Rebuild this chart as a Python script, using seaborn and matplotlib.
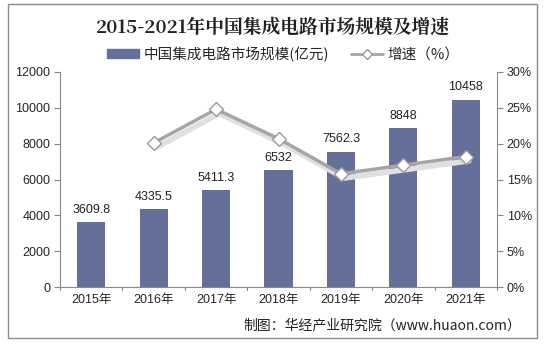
import matplotlib
matplotlib.use("Agg")
import matplotlib.pyplot as plt
import seaborn as sns
import pandas as pd
import numpy as np
from matplotlib.patches import Rectangle

years = ["2015年", "2016年", "2017年", "2018年", "2019年", "2020年", "2021年"]
scale = [3609.8, 4335.5, 5411.3, 6532, 7562.3, 8848, 10458]
scale_labels = ["3609.8", "4335.5", "5411.3", "6532", "7562.3", "8848", "10458"]
growth = [np.nan, 20.1, 24.8, 20.7, 15.8, 17.0, 18.2]
left_ticks = [0, 2000, 4000, 6000, 8000, 10000, 12000]
right_ticks = [0, 5, 10, 15, 20, 25, 30]

sns.set_theme(style="white")
plt.rcParams['font.family'] = ['Liberation Sans', 'Noto Sans CJK SC', 'DejaVu Sans']

df = pd.DataFrame({"year": years, "scale": scale, "growth": growth})

fig = plt.figure(figsize=(5.45, 3.45), dpi=100)
fig.patch.set_facecolor("white")
fig.add_artist(Rectangle((8/545, 7/345), 529/545, 334/345, transform=fig.transFigure,
                         fill=False, edgecolor="#8c8c8c", linewidth=1.0))

ax = fig.add_axes([60/545, 1-287/345, 437/545, 215/345])
bar_color = "#65709A"
sns.barplot(data=df, x="year", y="scale", color=bar_color, width=0.45, ax=ax,
            saturation=1, edgecolor="none")
ax.set_ylim(0, 12000)
ax.set_xlim(-0.5, 6.5)
ax.set_yticks(left_ticks)
ax.set_yticklabels([str(t) for t in left_ticks], fontsize=9)
ax.set_xlabel("")
ax.set_ylabel("")
ax.tick_params(axis="x", labelsize=9, length=0, pad=5)
ax.tick_params(axis="y", left=True, length=4, width=0.8, color="#888888", pad=3)
for i, (v, lab) in enumerate(zip(scale, scale_labels)):
    ax.text(i, v + 350, lab, ha="center", va="bottom", fontsize=9, color="#222222")
for b in np.arange(-0.5, 7.0, 1.0):
    ax.plot([b, b], [0, -180], color="#888888", lw=0.8, clip_on=False)
for s in ["top", "right"]:
    ax.spines[s].set_visible(False)
for s in ["left", "bottom"]:
    ax.spines[s].set_color("#888888")
    ax.spines[s].set_linewidth(0.8)

ax2 = ax.twinx()
xs = np.arange(len(years))
sns.lineplot(x=xs + 0.05, y=np.array(growth) - 0.6, ax=ax2, color="#e0e0e0", linewidth=4,
             legend=False)
sns.lineplot(x=xs, y=growth, ax=ax2, color="#a6a6a6", linewidth=2.5, marker="D",
             markersize=7, markerfacecolor="white", markeredgecolor="#9a9a9a",
             markeredgewidth=1.0, legend=False)
ax2.set_ylim(0, 30)
ax2.set_yticks(right_ticks)
ax2.set_yticklabels([f"{t}%" for t in right_ticks], fontsize=9)
ax2.tick_params(axis="y", right=True, length=4, width=0.8, color="#888888", pad=3)
ax2.set_ylabel("")
for s in ["top", "left", "bottom"]:
    ax2.spines[s].set_visible(False)
ax2.spines["right"].set_color("#888888")
ax2.spines["right"].set_linewidth(0.8)
ax2.set_xlim(-0.5, 6.5)

fig.text(0.5, 1-28/345, "2015-2021年中国集成电路市场规模及增速", ha="center", va="center",
         fontsize=13.5, fontweight="bold", family=['Noto Serif CJK SC', 'Noto Sans CJK SC', 'DejaVu Sans'],
         color="#222222")

from matplotlib.lines import Line2D
handles = [Rectangle((0, 0), 1, 1, color=bar_color),
           Line2D([0], [0], color="#a6a6a6", lw=2, marker="D", markersize=5,
                  markerfacecolor="white", markeredgecolor="#9a9a9a")]
fig.legend(handles, ["中国集成电路市场规模(亿元)", "增速（%）"], loc="center",
           bbox_to_anchor=(0.52, 1-54/345), ncol=2, frameon=False,
           handlelength=2.2, handleheight=0.6, columnspacing=1.5, handletextpad=0.3,
           prop={'family': ['Noto Sans CJK SC', 'DejaVu Sans'], 'size': 10.5})

fig.text(521/545, 1-325/345, "制图：华经产业研究院（www.huaon.com）", ha="right", va="center",
         fontsize=10, family=['Noto Sans CJK SC', 'DejaVu Sans'], color="#222222")

fig.savefig("out.png", dpi=100)
